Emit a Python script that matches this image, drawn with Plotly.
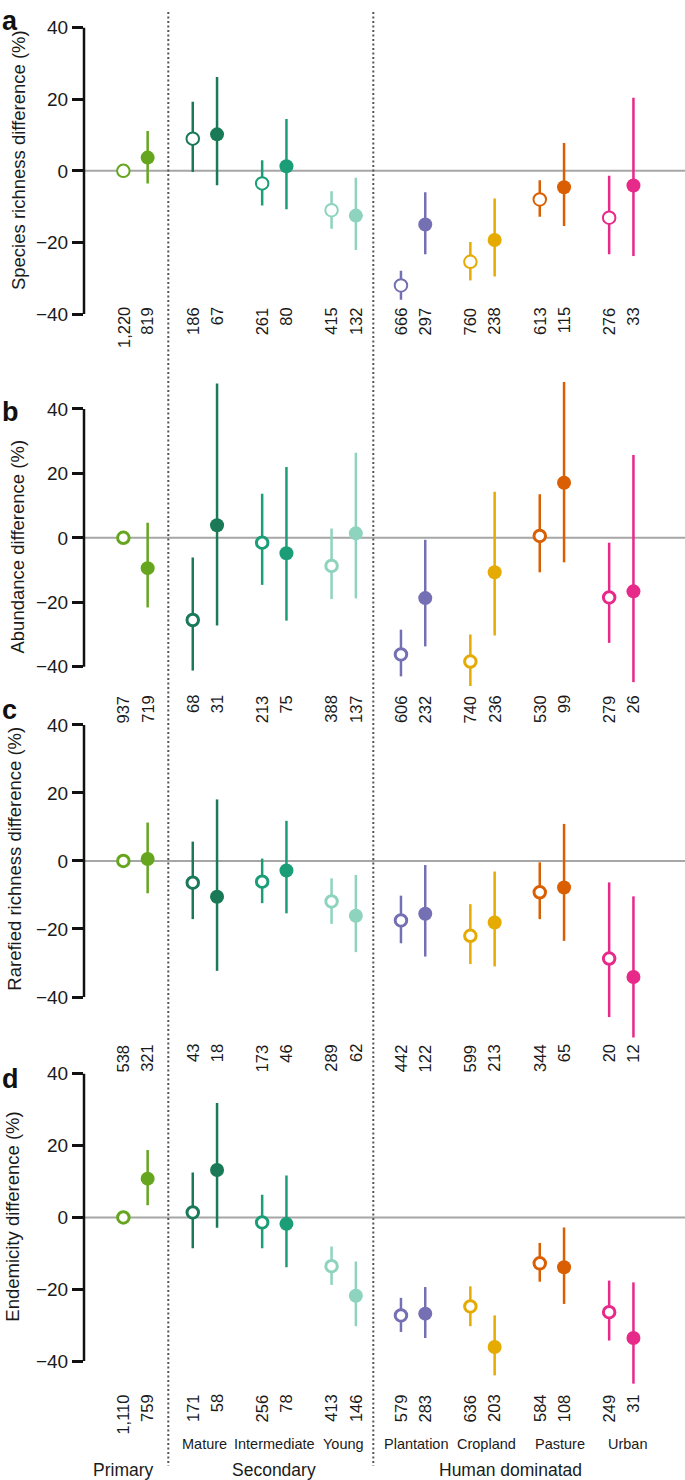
import plotly.graph_objects as go

groups = ["Primary", "Mature", "Intermediate", "Young", "Plantation", "Cropland", "Pasture", "Urban"]
colors = ["#66a61e", "#1a7a58", "#1b9e77", "#8dd3be", "#7570b3", "#e6ab02", "#d95f02", "#e7298a"]
sub_labels = ["", "Mature", "Intermediate", "Young", "Plantation", "Cropland", "Pasture", "Urban"]
sub_label_x = [0, 1, 2, 3, 4.05, 5.06, 6.11, 7.09]
top_labels = ["Primary", "Secondary", "Human dominatad"]
top_label_x = [-0.18, 2, 5.4]
separators_x = [0.4726, 3.4265]

panel_letters = ["a", "b", "c", "d"]
y_titles = ["Species richness difference (%)", "Abundance difference (%)",
            "Rarefied richness difference (%)", "Endemicity difference (%)"]
tick_vals = [-40, -20, 0, 20, 40]

# ---- Panel a: species richness ----
open_mean_a = [0, 9.0, -3.5, -11.0, -32.0, -25.4, -8.0, -13.1]
open_lo_a = [0, -0.3, -9.7, -16.2, -36.0, -30.6, -12.8, -23.3]
open_hi_a = [0, 19.3, 2.95, -5.7, -27.9, -19.9, -2.6, -1.4]
fill_mean_a = [3.7, 10.2, 1.3, -12.5, -15.0, -19.3, -4.6, -4.1]
fill_lo_a = [-3.5, -4.0, -10.7, -22.1, -23.3, -29.5, -15.4, -23.8]
fill_hi_a = [11.1, 26.2, 14.5, -1.9, -6.0, -7.7, 7.8, 20.4]
n_open_a = ["1,220", "186", "261", "415", "666", "760", "613", "276"]
n_fill_a = ["819", "67", "80", "132", "297", "238", "115", "33"]

# ---- Panel b: abundance ----
open_mean_b = [0, -25.5, -1.5, -8.7, -36.2, -38.4, 0.6, -18.5]
open_lo_b = [0, -41.2, -14.6, -19.0, -43.0, -46.0, -10.7, -32.6]
open_hi_b = [0, -6.1, 13.7, 2.9, -28.5, -30.0, 13.5, -1.5]
fill_mean_b = [-9.4, 3.9, -4.8, 1.4, -18.7, -10.7, 17.1, -16.6]
fill_lo_b = [-21.6, -27.2, -25.7, -18.8, -33.7, -30.3, -7.6, -44.8]
fill_hi_b = [4.7, 47.9, 22.0, 26.4, -0.6, 14.3, 48.4, 25.7]
n_open_b = ["937", "68", "213", "388", "606", "740", "530", "279"]
n_fill_b = ["719", "31", "75", "137", "232", "236", "99", "26"]

# ---- Panel c: rarefied richness ----
open_mean_c = [0, -6.4, -6.1, -11.9, -17.5, -22.0, -9.2, -28.7]
open_lo_c = [0, -17.1, -12.4, -18.5, -24.2, -30.3, -17.1, -45.9]
open_hi_c = [0, 5.7, 0.7, -5.1, -10.2, -12.7, -0.4, -6.3]
fill_mean_c = [0.6, -10.5, -2.8, -16.1, -15.5, -18.1, -7.8, -34.1]
fill_lo_c = [-9.5, -32.3, -15.4, -26.8, -28.1, -31.0, -23.5, -51.9]
fill_hi_c = [11.3, 18.1, 11.8, -4.1, -1.2, -3.1, 10.9, -10.4]
n_open_c = ["538", "43", "173", "289", "442", "599", "344", "20"]
n_fill_c = ["321", "18", "46", "62", "122", "213", "65", "12"]

# ---- Panel d: endemicity ----
open_mean_d = [0, 1.4, -1.4, -13.6, -27.3, -24.8, -12.8, -26.4]
open_lo_d = [0, -8.6, -8.6, -18.8, -31.9, -30.3, -17.9, -34.3]
open_hi_d = [0, 12.5, 6.3, -8.1, -22.4, -19.2, -7.1, -17.6]
fill_mean_d = [10.8, 13.2, -1.8, -21.8, -26.8, -36.1, -13.9, -33.6]
fill_lo_d = [3.4, -2.9, -13.9, -30.3, -33.6, -44.0, -24.1, -46.3]
fill_hi_d = [18.8, 31.9, 11.7, -12.3, -19.4, -27.3, -2.8, -18.1]
n_open_d = ["1,110", "171", "256", "413", "579", "636", "584", "249"]
n_fill_d = ["759", "58", "78", "146", "283", "203", "108", "31"]

panels = [
    (open_mean_a, open_lo_a, open_hi_a, fill_mean_a, fill_lo_a, fill_hi_a, n_open_a, n_fill_a),
    (open_mean_b, open_lo_b, open_hi_b, fill_mean_b, fill_lo_b, fill_hi_b, n_open_b, n_fill_b),
    (open_mean_c, open_lo_c, open_hi_c, fill_mean_c, fill_lo_c, fill_hi_c, n_open_c, n_fill_c),
    (open_mean_d, open_lo_d, open_hi_d, fill_mean_d, fill_lo_d, fill_hi_d, n_open_d, n_fill_d),
]

# ---- layout geometry (pixels) ----
W, H = 685, 1480
FONT = "Liberation Sans, Arial, Helvetica, sans-serif"
axis_px = 84
right_px = 683
grp_px0, grp_step = 135.5, 69.4
pair_off = 0.175
x_range = [(axis_px - grp_px0) / grp_step, (right_px - grp_px0) / grp_step]
zero_px = [167.3, 535.3, 859.3, 1216.7]
scale_px = [3.59, 3.23, 3.41, 3.60]
y_ranges = [[-45, 42], [-50, 50], [-55, 42], [-50, 42]]
count_top_px = [303, 692, 1042, 1393]
title_px = [(18.5, 157), (18, 544), (15, 857), (13, 1216)]
letter_px = [17, 409, 708, 1078]
open_lw = [2.0, 3.0, 3.0, 3.0]


def py(p):
    return 1 - p / H


fig = go.Figure()
layout = dict(
    width=W, height=H, margin=dict(l=0, r=0, t=0, b=0),
    paper_bgcolor="white", plot_bgcolor="white", showlegend=False,
    font=dict(family=FONT, color="#1a1a1a"),
    xaxis=dict(domain=[axis_px / W, right_px / W], range=x_range, visible=False,
               fixedrange=True),
)
shapes = []
annotations = []

for k, (om, olo, ohi, fm, flo, fhi, no, nf) in enumerate(panels):
    yname = "y" if k == 0 else f"y{k + 1}"
    ykey = "yaxis" if k == 0 else f"yaxis{k + 1}"
    lo_r, hi_r = y_ranges[k]
    top = zero_px[k] - hi_r * scale_px[k]
    bot = zero_px[k] - lo_r * scale_px[k]
    layout[ykey] = dict(
        domain=[py(bot), py(top)], range=[lo_r, hi_r], anchor="x",
        tickvals=tick_vals, ticks="outside", ticklen=11, tickwidth=2.5,
        tickcolor="#111", showgrid=False, zeroline=False, showline=False,
        tickfont=dict(size=19, family=FONT, color="#1a1a1a"), fixedrange=True,
    )
    # zero reference line
    shapes.append(dict(type="line", xref="paper", yref=yname, x0=axis_px / W, x1=1,
                       y0=0, y1=0, line=dict(color="#a6a6a6", width=2), layer="below"))
    # y axis line from -40 to 40
    shapes.append(dict(type="line", xref="paper", yref=yname, x0=axis_px / W, x1=axis_px / W,
                       y0=-40, y1=40, line=dict(color="#111", width=2.5)))
    for i, g in enumerate(groups):
        c = colors[i]
        xo = i - pair_off
        xf = i + pair_off
        # open circle (reference)
        fig.add_trace(go.Scatter(
            x=[xo], y=[om[i]], mode="markers", xaxis="x", yaxis=yname,
            marker=dict(size=14.5 - open_lw[k], color="white", symbol="circle",
                        line=dict(color=c, width=open_lw[k])),
            error_y=dict(type="data", symmetric=False, array=[ohi[i] - om[i]],
                         arrayminus=[om[i] - olo[i]], width=0, thickness=2.5, color=c,
                         visible=(ohi[i] != olo[i])),
            cliponaxis=False, hoverinfo="skip"))
        # filled circle
        fig.add_trace(go.Scatter(
            x=[xf], y=[fm[i]], mode="markers", xaxis="x", yaxis=yname,
            marker=dict(size=14, color=c, symbol="circle", line=dict(width=0)),
            error_y=dict(type="data", symmetric=False, array=[fhi[i] - fm[i]],
                         arrayminus=[fm[i] - flo[i]], width=0, thickness=2.5, color=c),
            cliponaxis=False, hoverinfo="skip"))
        for xx, txt in ((xo, no[i]), (xf, nf[i])):
            annotations.append(dict(
                x=xx, xref="x", y=py(count_top_px[k]), yref="paper", text=txt,
                textangle=-90, xanchor="center", yanchor="top", showarrow=False,
                font=dict(size=16.5, family=FONT, color="#1a1a1a"), borderpad=0))
    # panel letter
    annotations.append(dict(x=0, xref="paper", y=py(letter_px[k]), yref="paper",
                            text=f"<b>{panel_letters[k]}</b>", xanchor="left",
                            yanchor="middle", showarrow=False,
                            font=dict(size=27, family=FONT, color="#111")))
    # y title
    tx, tyc = title_px[k]
    annotations.append(dict(x=tx / W, xref="paper", y=py(tyc), yref="paper",
                            text=y_titles[k], textangle=-90, xanchor="center",
                            yanchor="middle", showarrow=False,
                            font=dict(size=18.5, family=FONT, color="#1a1a1a")))

# dotted separators
for sx in separators_x:
    shapes.append(dict(type="line", xref="x", yref="paper", x0=sx, x1=sx,
                       y0=py(8), y1=py(1466),
                       line=dict(color="#555", width=2, dash="2px,2.5px")))

# category labels
for lab, lx in zip(sub_labels, sub_label_x):
    if lab:
        annotations.append(dict(x=lx, xref="x", y=py(1444), yref="paper", text=lab,
                                xanchor="center", yanchor="middle", showarrow=False,
                                font=dict(size=14.5, family=FONT, color="#1a1a1a")))
for lab, lx in zip(top_labels, top_label_x):
    annotations.append(dict(x=lx, xref="x", y=py(1470), yref="paper", text=lab,
                            xanchor="center", yanchor="middle", showarrow=False,
                            font=dict(size=17.5, family=FONT, color="#1a1a1a")))

layout["shapes"] = shapes
layout["annotations"] = annotations
fig.update_layout(**layout)
fig.write_html("out.html", config={"displayModeBar": False},
               post_script="document.body.style.margin='0';document.body.style.overflow='hidden';")
